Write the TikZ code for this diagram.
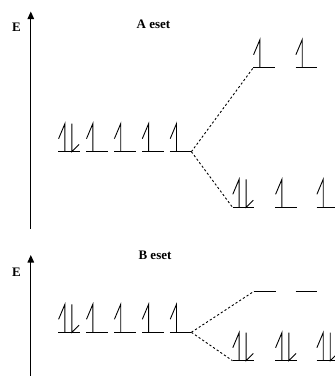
\documentclass[tikz,border=0pt]{standalone}
\usepackage{fontspec}
\setmainfont{Liberation Serif}
\usetikzlibrary{arrows.meta}
\begin{document}
\begin{tikzpicture}[x=1pt,y=-1pt,
  lvl/.style={line width=0.9pt},
  axis/.style={line width=1.1pt,-{Triangle[length=7.5pt,width=6.5pt]}},
  split/.style={line width=0.9pt,dash pattern=on 2.2pt off 2.2pt},
  lbl/.style={font=\fontsize{13}{15}\selectfont\bfseries,inner sep=0pt},
  pics/orb/.style={code={\draw[lvl] (0,0) -- (21.5,0);}},
  pics/up/.style={code={
    \draw[lvl] (0,0) -- (21.5,0);
    \draw[lvl] (6.6,0) -- (6.6,-28) -- (0.3,-13);}},
  pics/pair/.style={code={
    \draw[lvl] (0,0) -- (21.5,0);
    \draw[lvl] (6.6,0) -- (6.6,-28) -- (0.3,-13);
    \draw[lvl] (13.6,-28) -- (13.6,0) -- (20.8,-7.2);}}
]
\useasboundingbox (0,0) rectangle (335,376);
% ---------- A eset ----------
\coordinate (aB) at (30.8,228.5);
\coordinate (aT) at (30.8,11.5);
\draw[axis] (aB) -- (aT);
\node[lbl] (aE) at (16.5,27.5) {E};
\node[lbl] (aTitle) at (153.5,24) {A eset};
\pic at (58.3,151.7) {pair};
\pic at (86.2,151.7) {up};
\pic at (114.1,151.7) {up};
\pic at (142,151.7) {up};
\pic at (169.9,151.7) {up};
\coordinate (aJ) at (191.4,151.7);
\pic at (253.3,67.7) {up};
\pic at (295.6,67.7) {up};
\coordinate (aU) at (253.3,67.7);
\pic at (232.5,207.3) {pair};
\pic at (275.3,207.3) {up};
\pic at (316.6,207.3) {up};
\coordinate (aL) at (232.5,207.3);
\draw[split] (aJ) -- (aU);
\draw[split] (aJ) -- (aL);
% ---------- B eset ----------
\coordinate (bB) at (30.8,376.5);
\coordinate (bT) at (30.8,255);
\draw[axis] (bB) -- (bT);
\node[lbl] (bE) at (16.5,272) {E};
\node[lbl] (bTitle) at (155,255) {B eset};
\pic at (58.3,332.3) {pair};
\pic at (86.2,332.3) {up};
\pic at (114.1,332.3) {up};
\pic at (142,332.3) {up};
\pic at (169.9,332.3) {up};
\coordinate (bJ) at (191.4,332.3);
\pic at (254,291.3) {orb};
\pic at (295.6,291.3) {orb};
\coordinate (bU) at (254,291.3);
\pic at (232.5,360.7) {pair};
\pic at (275.3,360.7) {pair};
\pic at (316.6,360.7) {pair};
\coordinate (bL) at (232.5,360.7);
\draw[split] (bJ) -- (bU);
\draw[split] (bJ) -- (bL);
\end{tikzpicture}
\end{document}
